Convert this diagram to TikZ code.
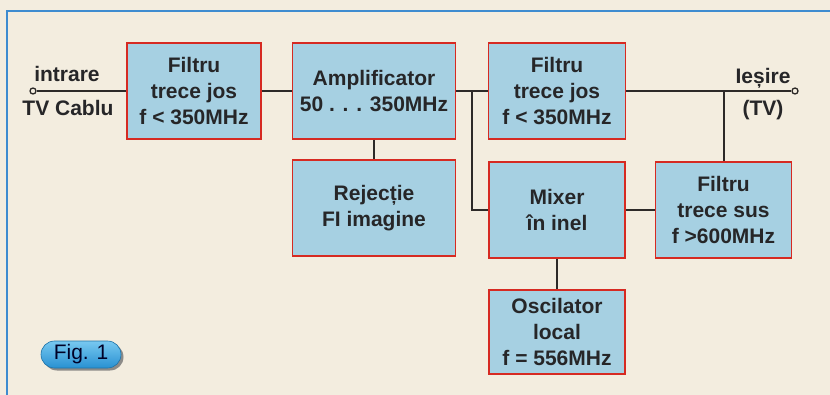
\documentclass[tikz,border=0pt]{standalone}
\usepackage{fontspec}
\setmainfont{Liberation Sans}
\usetikzlibrary{shapes.misc,shadows}
\definecolor{bg}{RGB}{243,237,223}
\definecolor{boxblue}{RGB}{166,208,226}
\definecolor{boxred}{RGB}{214,42,34}
\definecolor{wiredark}{RGB}{45,42,40}
\definecolor{textdark}{RGB}{38,38,40}
\definecolor{frameblue}{RGB}{62,140,208}
\definecolor{pilltop}{RGB}{120,200,240}
\definecolor{pillbot}{RGB}{40,145,210}
\begin{document}
\begin{tikzpicture}[x=1pt,y=-1pt,
  blk/.style={draw=boxred, fill=boxblue, line width=1.6pt, align=center,
    font=\fontsize{21}{26}\selectfont\bfseries, text=textdark, inner sep=0pt,
    minimum width=136pt, minimum height=96pt},
  wire/.style={draw=wiredark, line width=2pt},
  lbl/.style={font=\fontsize{21}{24}\selectfont\bfseries, text=textdark, inner sep=0pt},
  term/.style={circle, draw=wiredark, fill=bg, line width=1.3pt, minimum size=6pt, inner sep=0pt},
  pill/.style={rounded rectangle, draw=pillbot!80!black, line width=0.6pt,
    top color=pilltop, bottom color=pillbot, minimum width=80pt, minimum height=27pt,
    inner sep=0pt, font=\fontsize{21}{22}\selectfont, text=black!85!blue,
    drop shadow={shadow xshift=2.5pt, shadow yshift=-2.5pt, fill=black!55, opacity=0.8}}]
\useasboundingbox (0,0) rectangle (830,395);
\fill[bg] (0,0) rectangle (830,395);
\draw[frameblue, line width=1.4pt] (830,11) -- (7,11) -- (7,395);

% blocks
\node[blk, minimum width=134pt] (lp1) at (194,91) {Filtru\\trece jos\\f < 350MHz};
\node[blk, minimum width=163pt] (amp) at (374,91) {Amplificator\\50 . . . 350MHz};
\node[blk, minimum width=163pt] (rej) at (374,208) {Rejecție\\FI imagine};
\node[blk, minimum width=137pt] (lp2) at (557,91) {Filtru\\trece jos\\f < 350MHz};
\node[blk] (mix) at (557,210) {Mixer\\în inel};
\node[blk, minimum height=84pt] (osc) at (557,332) {Oscilator\\local\\f = 556MHz};
\node[blk] (hp) at (723.5,210) {Filtru\\trece sus\\f >600MHz};

% terminals and labels
\node[term] (inp) at (33,91) {};
\node[term] (outp) at (795,91) {};
\node[lbl] (lin1) at (67,74) {intrare};
\node[lbl] (lin2) at (68,108) {TV Cablu};
\node[lbl] (lout1) at (763,78) {Ieșire};
\node[lbl] (lout2) at (763,110) {(TV)};

\coordinate (j1) at (472,91);
\coordinate (j2) at (723.5,91);

% wires
\draw[wire] (inp) -- (lp1);
\draw[wire] (lp1) -- (amp);
\draw[wire] (amp) -- (lp2);
\draw[wire] (amp) -- (rej);
\draw[wire] (j1) |- (mix.west);
\draw[wire] (mix) -- (osc);
\draw[wire] (mix) -- (hp);
\draw[wire] (lp2) -- (outp);
\draw[wire] (hp) -- (j2);

% figure label
\node[pill] (fig) at (81,354.5) {Fig. 1};
\end{tikzpicture}
\end{document}
